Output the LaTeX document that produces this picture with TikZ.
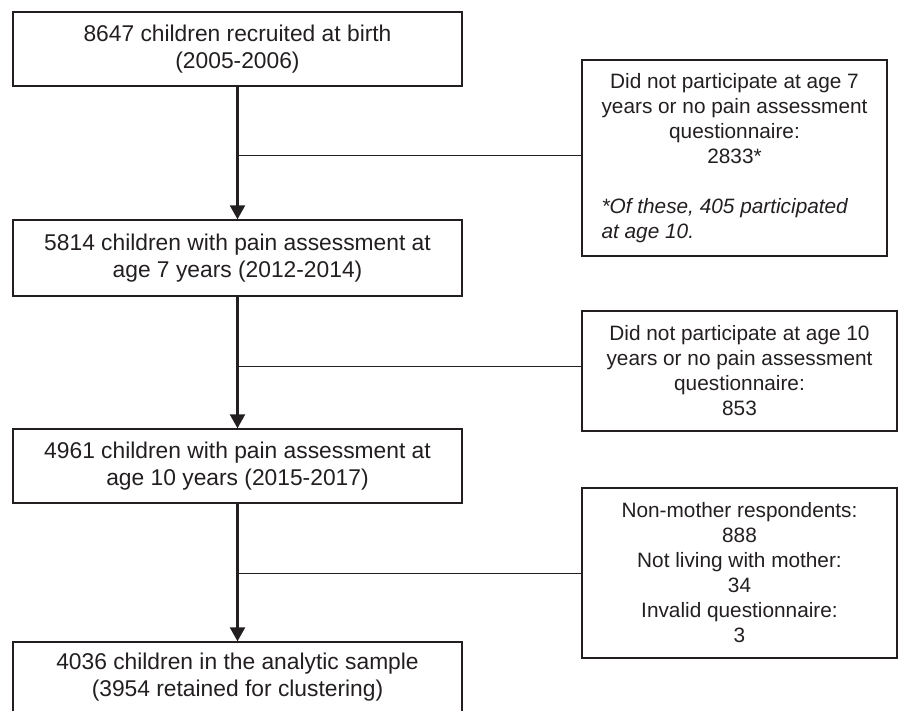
\documentclass[tikz,border=0pt]{standalone}
\usepackage{fontspec}
\setmainfont{Liberation Sans}
\usetikzlibrary{arrows.meta}
\definecolor{ink}{HTML}{231F20}
\begin{document}
\begin{tikzpicture}[x=1pt,y=-1pt,
  every node/.style={text=ink,inner sep=0pt},
  mainbox/.style={draw=ink,line width=1.4pt,minimum width=449pt,align=center,font=\fontsize{22.8}{26.5}\selectfont},
  sidebox/.style={draw=ink,line width=1.4pt,align=center,font=\fontsize{20.8}{25}\selectfont},
  flowarrow/.style={draw=ink,line width=2.4pt,-{Triangle[width=15pt,length=14pt]}},
  sideline/.style={draw=ink,line width=0.9pt}]
\useasboundingbox (0,0) rectangle (899,710);
% main boxes
\node[mainbox,minimum height=74pt] (b1) at (237.5,49) {8647 children recruited at birth\\(2005-2006)};
\node[mainbox,minimum height=76pt] (b2) at (237.5,258) {5814 children with pain assessment at\\age 7 years (2012-2014)};
\node[mainbox,minimum height=74pt] (b3) at (237.5,466) {4961 children with pain assessment at\\age 10 years (2015-2017)};
\node[mainbox,minimum height=70pt] (b4) at (237.5,677) {4036 children in the analytic sample\\(3954 retained for clustering)};
% side boxes
\node[sidebox,minimum width=305pt,minimum height=196pt] (s1) at (734.5,158) {\begin{tabular}{@{}c@{}}Did not participate at age 7\\years or no pain assessment\\questionnaire:\\2833*\\ \\ \multicolumn{1}{@{}l@{}}{\itshape *Of these, 405 participated}\\ \multicolumn{1}{@{}l@{}}{\itshape at age 10.}\end{tabular}};
\node[sidebox,minimum width=315pt,minimum height=120pt] (s2) at (739.5,371) {Did not participate at age 10\\years or no pain assessment\\questionnaire:\\853};
\node[sidebox,minimum width=315pt,minimum height=170pt] (s3) at (739.5,573) {Non-mother respondents:\\888\\Not living with mother:\\34\\Invalid questionnaire:\\3};
% junction points
\coordinate (j1) at (237,155);
\coordinate (j2) at (237,366);
\coordinate (j3) at (237,573);
% arrows
\draw[flowarrow] (b1.south) -- (b2.north);
\draw[flowarrow] (b2.south) -- (b3.north);
\draw[flowarrow] (b3.south) -- (b4.north);
% side connectors
\draw[sideline] (j1) -- (j1 -| s1.west);
\draw[sideline] (j2) -- (j2 -| s2.west);
\draw[sideline] (j3) -- (j3 -| s3.west);
\end{tikzpicture}
\end{document}
